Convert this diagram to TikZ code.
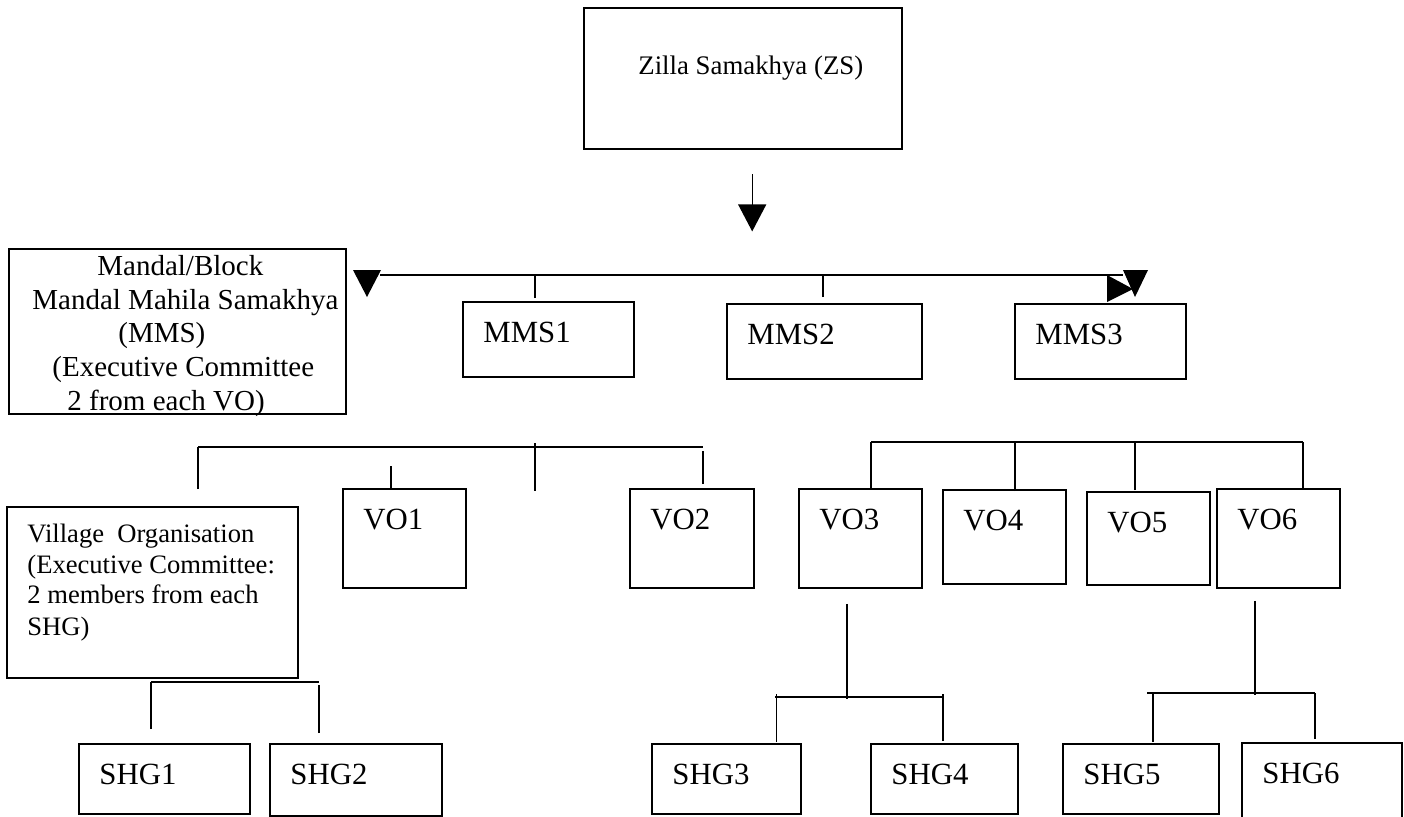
\documentclass[tikz,border=0pt]{standalone}
\usepackage{fontspec}
\setmainfont{Liberation Serif}
\usetikzlibrary{arrows.meta}

\tikzset{
  box/.style={draw, line width=0.9pt, inner sep=0pt, anchor=north west},
  lbl/.style={anchor=base west, inner sep=0pt, font=\fontsize{15.4}{18}\selectfont},
  bigtxt/.style={anchor=base west, inner sep=0pt},
  wire/.style={line width=0.65pt},
  arr/.style={wire, -{Triangle[length=13.5pt, width=14pt]}},
}

\begin{document}
\begin{tikzpicture}[x=0.5pt, y=-0.5pt]
  \useasboundingbox (0,0) rectangle (1404,816);

  % ---- top level ----
  \node[box, line width=1.2pt, minimum width=159pt, minimum height=70.5pt] (zs) at (583,7) {};
  \node[bigtxt, font=\fontsize{13.4}{16}\selectfont] (zs-t) at (638,74) {Zilla Samakhya (ZS)};

  % Mandal box (text lines placed one by one)
  \node[box, minimum width=168.5pt, minimum height=82.5pt] (mandal) at (8,248) {};
  \node[bigtxt, font=\fontsize{14.5}{17}\selectfont] (mandal-1) at (97,275) {Mandal/Block};
  \node[bigtxt, font=\fontsize{14.5}{17}\selectfont] (mandal-2) at (32,309) {Mandal Mahila Samakhya};
  \node[bigtxt, font=\fontsize{14.5}{17}\selectfont] (mandal-3) at (118,342) {(MMS)};
  \node[bigtxt, font=\fontsize{14.5}{17}\selectfont] (mandal-4) at (52,376) {(Executive Committee};
  \node[bigtxt, font=\fontsize{14.5}{17}\selectfont] (mandal-5) at (67,410) {2 from each VO)};

  % Village box
  \node[box, minimum width=145.5pt, minimum height=85.5pt] (village) at (6,506) {};
  \node[bigtxt, font=\fontsize{13.3}{16}\selectfont] (village-1) at (27,542) {Village~ Organisation};
  \node[bigtxt, font=\fontsize{13.3}{16}\selectfont] (village-2) at (27,573) {(Executive Committee:};
  \node[bigtxt, font=\fontsize{13.3}{16}\selectfont] (village-3) at (27,603) {2 members from each};
  \node[bigtxt, font=\fontsize{13.3}{16}\selectfont] (village-4) at (27,635) {SHG)};

  % ---- small boxes: name/x/y/w/h/text (pixels) ----
  \foreach \nm/\x/\y/\w/\h/\tx in {
      mms1/462/301/171/75/MMS1, mms2/726/303/195/75/MMS2, mms3/1014/303/171/75/MMS3,
      vo1/342/488/123/99/VO1, vo2/629/488/124/99/VO2, vo3/798/488/123/99/VO3,
      vo4/942/489/123/94/VO4, vo5/1086/491/123/93/VO5, vo6/1216/488/123/99/VO6,
      shg1/78/743/171/70/SHG1, shg2/269/743/172/72/SHG2, shg3/651/743/149/70/SHG3,
      shg4/870/743/147/70/SHG4, shg5/1062/743/156/70/SHG5, shg6/1241/742/160/80/SHG6} {
    \node[box, minimum width={\w*0.5pt}, minimum height={\h*0.5pt}] (\nm) at (\x,\y) {};
    \node[lbl] (\nm-t) at (\x+21,\y+41) {\tx};
  }

  % ---- ZS down to the MMS line ----
  \draw[arr] ([shift={(9,24)}]zs.south) -- ++(0,57);

  \coordinate (busw) at (380,275);
  \coordinate (buse) at (1123,275);
  \draw[wire] (busw) -- (buse);
  \fill (busw) ++(-27,-5) -- ++(28,0) -- ++(-14,27) -- cycle;
  \fill (buse) ++(0,-5) -- ++(25,0) -- ++(-13,27) -- cycle;
  \fill (buse) ++(-16,0) -- ++(0,27) -- ++(26,-13) -- cycle;
  \draw[wire] ([shift={(73,-3)}]mms1.north west) -- ++(0,-23);
  \draw[wire] ([shift={(97,-6)}]mms2.north west) -- ++(0,-22);

  % ---- VO1, VO2 ----
  \coordinate (vlw) at (198,447);
  \coordinate (vle) at (703,447);
  \draw[wire] (vlw) -- (vle);
  \draw[wire] ([shift={(192,-17)}]village.north west) -- (vlw);
  \draw[wire] ([shift={(337,-4)}]vlw) -- ++(0,48);
  \draw[wire] ([shift={(49,0)}]vo1.north west) -- ++(0,-22);
  \draw[wire] ([shift={(74,-4)}]vo2.north west) -- ++(0,-33);

  % ---- VO3 .. VO6 ----
  \coordinate (vrw) at (871,442);
  \coordinate (vre) at (1303,442);
  \draw[wire] (vrw) -- (vre);
  \draw[wire] (vrw) -- ([shift={(73,0)}]vo3.north west);
  \draw[wire] ([shift={(73,2)}]vo4.north west) -- ++(0,-49);
  \draw[wire] ([shift={(49,-1)}]vo5.north west) -- ++(0,-48);
  \draw[wire] (vre) -- ([shift={(87,2)}]vo6.north west);

  % ---- SHGs ----
  \coordinate (s12w) at (151,682);
  \coordinate (s12e) at (319,682);
  \draw[wire] (s12w) -- (s12e);
  \draw[wire] ([shift={(73,-14)}]shg1.north west) -- (s12w);
  \draw[wire] ([shift={(50,-10)}]shg2.north west) -- ++(0,-48);

  \coordinate (s34w) at (775,697);
  \coordinate (s34e) at (943,697);
  \draw[wire] ([shift={(49,15)}]vo3.south west) -- ++(0,95);
  \draw[wire] (s34w) -- (s34e);
  \draw[wire] ([shift={(-25,-1)}]shg3.north east) -- ++(0,-48);
  \draw[wire] ([shift={(73,-2)}]shg4.north west) -- ++(0,-47);

  \coordinate (s56w) at (1147,693);
  \coordinate (s56e) at (1315,693);
  \draw[wire] ([shift={(39,12)}]vo6.south west) -- ++(0,94);
  \draw[wire] (s56w) -- (s56e);
  \draw[wire] ([shift={(91,-1)}]shg5.north west) -- ++(0,-49);
  \draw[wire] ([shift={(74,-3)}]shg6.north west) -- ++(0,-46);

\end{tikzpicture}
\end{document}
